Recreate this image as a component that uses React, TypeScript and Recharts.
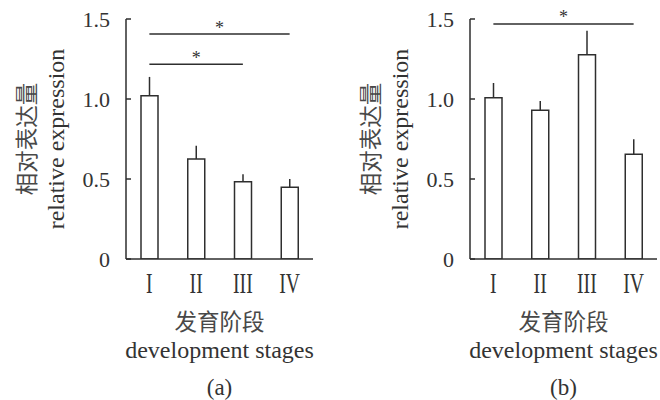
import React from 'react';
import { BarChart, Bar, XAxis, YAxis, ErrorBar, ReferenceLine } from 'recharts';

const stages = ['I', 'II', 'III', 'IV'];
const valuesA = [1.02, 0.625, 0.483, 0.448];
const errorsA = [0.118, 0.083, 0.046, 0.052];
const valuesB = [1.008, 0.929, 1.277, 0.654];
const errorsB = [0.092, 0.058, 0.15, 0.094];
const yTicks = [0, 0.5, 1.0, 1.5];
const sigA = [
  { from: 'I', to: 'IV', y: 1.406 },
  { from: 'I', to: 'III', y: 1.217 },
];
const sigB = [{ from: 'I', to: 'IV', y: 1.469 }];
const yLabelCn = '相对表达量';
const yLabelEn = 'relative expression';
const xLabelCn = '发育阶段';
const xLabelEn = 'development stages';
const panelTags = ['(a)', '(b)'];

const SERIF = "'Liberation Serif', 'Times New Roman', 'Noto Sans CJK SC', serif";
const CJK = "'Noto Sans CJK SC', sans-serif";
const INK = '#2e2e2e';
const TEXT = '#333333';
const CJK_TEXT = '#484848';

const buildData = (vals: number[], errs: number[]) =>
  stages.map((s, i) => ({ stage: s, value: vals[i], err: [0, errs[i]] }));

const RomanTick = (props: any) => {
  const { x, y, payload } = props;
  return (
    <text
      transform={`translate(${x},${y + 34}) scale(0.68,1)`}
      textAnchor="middle"
      fontSize={29}
      fontFamily={SERIF}
      fill={TEXT}
    >
      {payload.value}
    </text>
  );
};

const ValueTick = (props: any) => {
  const { x, y, payload } = props;
  const v = Number(payload.value);
  return (
    <text x={x} y={y} dy="0.355em" textAnchor="end" fontSize={22} fontFamily={SERIF} fill={TEXT}>
      {v === 0 ? '0' : v.toFixed(1)}
    </text>
  );
};

const YLabel = (props: any) => {
  const vb = props.viewBox || { x: 0, y: 19, width: 126, height: 240 };
  const ax = vb.x + vb.width;
  const cy = vb.y + vb.height / 2;
  return (
    <g>
      <text
        transform={`translate(${ax - 101},${cy}) rotate(-90)`}
        textAnchor="middle"
        dominantBaseline="central"
        fontSize={22.5}
        fontFamily={CJK}
        fill={CJK_TEXT}
      >
        {yLabelCn}
      </text>
      <text
        transform={`translate(${ax - 70},${cy}) rotate(-90)`}
        textAnchor="middle"
        dominantBaseline="central"
        fontSize={24}
        fontFamily={SERIF}
        fill={TEXT}
      >
        {yLabelEn}
      </text>
    </g>
  );
};

const XLabel = (props: any) => {
  const vb = props.viewBox || { x: 126, y: 259, width: 187, height: 141 };
  const cx = vb.x + vb.width / 2;
  const top = vb.y;
  return (
    <g>
      <text x={cx} y={top + 61} textAnchor="middle" dominantBaseline="central" fontSize={22.5} fontFamily={CJK} fill={CJK_TEXT}>
        {xLabelCn}
      </text>
      <text x={cx} y={top + 91} textAnchor="middle" dominantBaseline="central" fontSize={24} fontFamily={SERIF} fill={TEXT}>
        {xLabelEn}
      </text>
      <text x={cx} y={top + 128} textAnchor="middle" dominantBaseline="central" fontSize={23} fontFamily={SERIF} fill={TEXT}>
        {props.tag}
      </text>
    </g>
  );
};

const StarLabel = (props: any) => {
  const vb = props.viewBox || { x: 0, y: 0, width: 0 };
  return (
    <text x={vb.x + (vb.width || 0) / 2} y={vb.y - 0.5} textAnchor="middle" fontSize={18} fontFamily={SERIF} fill={TEXT}>
      *
    </text>
  );
};

const Panel = ({ vals, errs, sig, tag, yAxisWidth, rightMargin }: any) => {
  const data = buildData(vals, errs);
  return (
    <BarChart
      width={330}
      height={400}
      data={data}
      margin={{ top: 19, right: rightMargin, left: 0, bottom: 0 }}
      barCategoryGap={0}
    >
      <YAxis
        width={yAxisWidth}
        domain={[0, 1.5]}
        ticks={yTicks}
        interval={0}
        allowDataOverflow
        axisLine={{ stroke: INK, strokeWidth: 1.5 }}
        tickLine={{ stroke: INK, strokeWidth: 1.5 }}
        tickSize={-5}
        tickMargin={21}
        tick={<ValueTick />}
        label={<YLabel />}
      />
      <XAxis
        dataKey="stage"
        height={141}
        axisLine={{ stroke: INK, strokeWidth: 1.5 }}
        tickLine={false}
        tickSize={0}
        tickMargin={0}
        interval={0}
        tick={<RomanTick />}
        label={<XLabel tag={tag} />}
      />
      <Bar dataKey="value" fill="#ffffff" stroke={INK} strokeWidth={1.5} barSize={17} isAnimationActive={false}>
        <ErrorBar dataKey="err" width={0} stroke={INK} strokeWidth={1.5} direction="y" isAnimationActive={false} />
      </Bar>
      {sig.map((s: any, i: number) => (
        <ReferenceLine
          key={i}
          segment={[
            { x: s.from, y: s.y },
            { x: s.to, y: s.y },
          ]}
          stroke={INK}
          strokeWidth={1.5}
          ifOverflow="visible"
          label={<StarLabel />}
        />
      ))}
    </BarChart>
  );
};

export default function App() {
  return (
    <div style={{ position: 'absolute', left: 0, top: 0, width: 660, height: 400, background: '#fff', fontFamily: SERIF }}>
      <div style={{ position: 'absolute', left: 0, top: 0 }}>
        <Panel vals={valuesA} errs={errorsA} sig={sigA} tag={panelTags[0]} yAxisWidth={126} rightMargin={17} />
      </div>
      <div style={{ position: 'absolute', left: 330, top: 0 }}>
        <Panel vals={valuesB} errs={errorsB} sig={sigB} tag={panelTags[1]} yAxisWidth={140} rightMargin={3} />
      </div>
    </div>
  );
}
